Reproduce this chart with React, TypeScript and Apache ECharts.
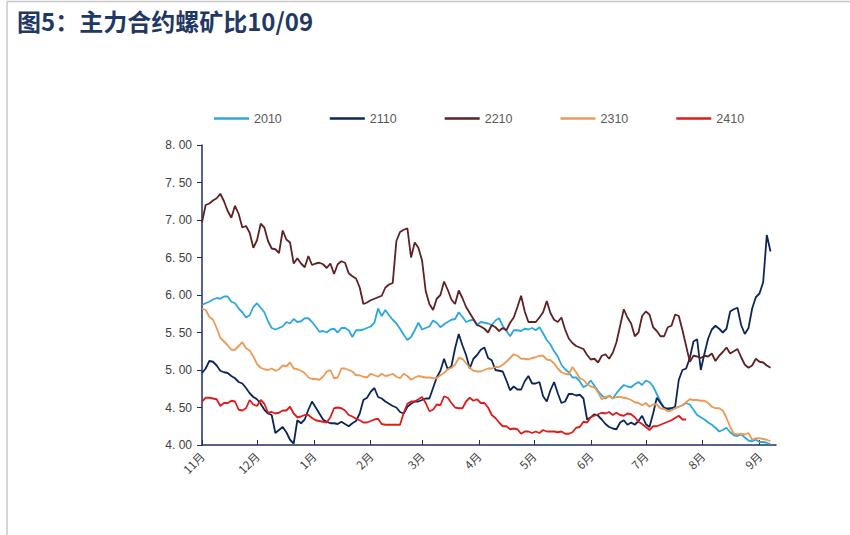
import React, { useEffect, useRef } from "react";
import * as echarts from "echarts";

// x axis: calendar-day offset from 1 Nov; month boundaries
const monthStartDays = [0, 30, 61, 92, 120, 151, 181, 212, 242, 273, 304];
const monthLabels = ["11月", "12月", "1月", "2月", "3月", "4月", "5月", "6月", "7月", "8月", "9月"];
const axisEndDay = 313;
const DAY_STEP = 2; // readings taken every 2 calendar days

const seriesNames = ["2010", "2110", "2210", "2310", "2410"];

const s2010 = [
  5.87, 5.89, 5.91, 5.94, 5.96, 5.95, 5.98, 5.98, 5.91, 5.89,
  5.82, 5.77, 5.7, 5.73, 5.84, 5.89, 5.83, 5.77, 5.65, 5.56,
  5.54, 5.56, 5.58, 5.64, 5.62, 5.68, 5.64, 5.65, 5.69, 5.69,
  5.64, 5.58, 5.51, 5.52, 5.5, 5.54, 5.55, 5.5, 5.56, 5.56,
  5.53, 5.44, 5.53, 5.53, 5.54, 5.56, 5.58, 5.63, 5.82, 5.72,
  5.8, 5.73, 5.67, 5.62, 5.55, 5.47, 5.4, 5.44, 5.53, 5.63,
  5.54, 5.56, 5.58, 5.66, 5.63, 5.57, 5.61, 5.64, 5.67, 5.68,
  5.77, 5.71, 5.64, 5.66, 5.67, 5.6, 5.64, 5.63, 5.62, 5.6,
  5.66, 5.69, 5.59, 5.52, 5.45, 5.53, 5.53, 5.52, 5.55, 5.54,
  5.56, 5.53, 5.57, 5.49, 5.4, 5.34, 5.25, 5.18, 5.07, 5.01,
  4.97, 4.9, 4.9, 4.85, 4.77, 4.8, 4.86, 4.79, 4.72, 4.66,
  4.62, 4.66, 4.62, 4.69, 4.75, 4.8, 4.78, 4.77, 4.81, 4.84,
  4.8, 4.86, 4.84, 4.78, 4.68, 4.58, 4.48, 4.49, 4.49, 4.49,
  4.51, 4.53, 4.56, 4.54, 4.47, 4.4, 4.37, 4.34, 4.3, 4.27,
  4.23, 4.18, 4.2, 4.23, 4.17, 4.13, 4.12, 4.14, 4.1, 4.06,
  4.05, 4.07, 4.04, 4.04, 4.03, 4.01,
];

const s2110 = [
  4.96, 5.02, 5.12, 5.11, 5.06, 4.99, 4.97, 4.96, 4.92, 4.89,
  4.84, 4.82, 4.76, 4.69, 4.64, 4.61, 4.55, 4.47, 4.42, 4.4,
  4.16, 4.2, 4.24, 4.17, 4.07, 4.02, 4.33, 4.29, 4.34, 4.47,
  4.58, 4.5, 4.42, 4.34, 4.31, 4.29, 4.29, 4.28, 4.31, 4.28,
  4.25, 4.29, 4.32, 4.42, 4.6, 4.63, 4.71, 4.76, 4.64, 4.62,
  4.58, 4.55, 4.52, 4.5, 4.44, 4.42, 4.51, 4.55, 4.58, 4.58,
  4.6, 4.62, 4.62, 4.76, 4.9, 4.99, 5.15, 5.01, 5.05, 5.29,
  5.48, 5.33, 5.2, 5.02, 5.15, 5.2, 5.27, 5.3, 5.16, 5.13,
  5.0, 4.99, 4.98, 4.86, 4.73, 4.78, 4.74, 4.74, 4.85, 4.92,
  4.82, 4.82, 4.84, 4.65, 4.58, 4.73, 4.84, 4.69, 4.56, 4.58,
  4.68, 4.68, 4.66, 4.67, 4.62, 4.34, 4.37, 4.41, 4.39, 4.34,
  4.28, 4.24, 4.22, 4.21, 4.3, 4.33, 4.27, 4.3, 4.27, 4.32,
  4.39, 4.28, 4.24, 4.42, 4.63, 4.56, 4.5, 4.48, 4.49, 4.51,
  4.87, 5.0, 5.02, 5.16, 5.38, 5.41, 5.0, 5.22, 5.42, 5.54,
  5.59, 5.55, 5.5, 5.55, 5.78, 5.81, 5.83, 5.6, 5.48, 5.56,
  5.82, 5.97, 6.02, 6.17, 6.8, 6.58,
];

const s2210 = [
  6.97, 7.2, 7.22, 7.26, 7.29, 7.35, 7.25, 7.12, 7.03, 7.19,
  7.08, 6.9, 6.92, 6.83, 6.63, 6.73, 6.95, 6.9, 6.72, 6.62,
  6.61, 6.56, 6.86, 6.74, 6.7, 6.42, 6.49, 6.42, 6.37, 6.52,
  6.4, 6.42, 6.43, 6.41, 6.36, 6.42, 6.28, 6.41, 6.45, 6.43,
  6.29, 6.25, 6.22, 6.1, 5.88, 5.9, 5.93, 5.95, 5.97, 5.99,
  6.1, 6.14, 6.16, 6.72, 6.84, 6.87, 6.89, 6.5, 6.7, 6.63,
  6.46, 6.05, 5.88, 5.8, 5.95, 6.0, 6.18, 6.07, 5.94, 5.88,
  6.06, 5.96, 5.84, 5.76, 5.68, 5.6, 5.58, 5.55, 5.5, 5.6,
  5.57, 5.52, 5.56, 5.53, 5.63, 5.7, 5.84, 5.99, 5.78, 5.64,
  5.64, 5.64, 5.7, 5.77, 5.92, 5.76, 5.67, 5.64, 5.7, 5.54,
  5.42, 5.36, 5.32, 5.3, 5.28, 5.2, 5.14, 5.15, 5.1, 5.19,
  5.21, 5.15, 5.23, 5.37, 5.59, 5.81, 5.7, 5.62, 5.45, 5.5,
  5.72, 5.78, 5.74, 5.57, 5.52, 5.45, 5.45, 5.57, 5.59, 5.74,
  5.72, 5.53, 5.32, 5.11, 5.19, 5.18, 5.16, 5.19, 5.18, 5.22,
  5.12, 5.19, 5.24, 5.3, 5.22, 5.25, 5.28, 5.17, 5.07, 5.03,
  5.06, 5.15, 5.11, 5.1, 5.06, 5.03,
];

const s2310 = [
  5.82, 5.8, 5.71, 5.67, 5.56, 5.43, 5.38, 5.33, 5.27, 5.27,
  5.32, 5.37, 5.29, 5.26, 5.18, 5.08, 5.03, 5.01, 5.0, 5.02,
  4.99, 5.01, 5.06, 5.05, 5.1, 5.02, 5.01, 4.99, 4.96, 4.9,
  4.88, 4.88, 4.87, 4.91, 4.98, 5.0, 4.89, 4.9, 5.02, 5.02,
  5.0, 4.98, 4.93, 4.93, 4.91, 4.9, 4.95, 4.93, 4.91, 4.95,
  4.92, 4.93, 4.95, 4.91, 4.89, 4.95, 4.92, 4.87, 4.9, 4.92,
  4.91, 4.9, 4.9, 4.89, 4.89, 4.93, 4.96, 5.01, 5.03, 5.07,
  5.16, 5.15, 5.09, 5.03, 4.99, 4.98, 4.98, 5.0, 5.02, 5.02,
  5.04, 5.04, 5.07, 5.11, 5.16, 5.21, 5.19, 5.15, 5.15, 5.14,
  5.16, 5.17, 5.19, 5.19, 5.14, 5.13, 5.09, 5.02, 4.97, 4.95,
  4.94, 5.04, 4.97, 4.89, 4.87, 4.81, 4.78, 4.77, 4.7, 4.61,
  4.64, 4.65, 4.62, 4.64, 4.64, 4.63, 4.62, 4.6, 4.57, 4.56,
  4.53, 4.56, 4.51, 4.54, 4.54, 4.49, 4.48, 4.45, 4.46, 4.49,
  4.51, 4.53, 4.57, 4.61, 4.6, 4.6, 4.59, 4.59, 4.56, 4.51,
  4.49, 4.49, 4.46, 4.36, 4.24, 4.15, 4.14, 4.15, 4.14, 4.16,
  4.07, 4.09, 4.09, 4.08, 4.07, 4.05,
];

const s2410 = [
  4.58, 4.63, 4.63, 4.62, 4.61, 4.52, 4.56, 4.56, 4.59, 4.58,
  4.47, 4.46, 4.49, 4.6, 4.54, 4.52, 4.6, 4.55, 4.43, 4.44,
  4.42, 4.43, 4.46, 4.46, 4.51, 4.42, 4.37, 4.38, 4.4, 4.4,
  4.36, 4.33, 4.32, 4.31, 4.3, 4.37, 4.49, 4.5, 4.49, 4.46,
  4.4, 4.38, 4.35, 4.33, 4.3, 4.3, 4.32, 4.34, 4.35, 4.28,
  4.27, 4.27, 4.27, 4.27, 4.27, 4.43, 4.55, 4.58, 4.58, 4.61,
  4.64, 4.56, 4.45, 4.47, 4.54, 4.53, 4.65, 4.63, 4.56, 4.5,
  4.49, 4.49, 4.58, 4.63, 4.59, 4.61, 4.56, 4.56, 4.5, 4.4,
  4.36, 4.3, 4.25, 4.25, 4.21, 4.22, 4.21, 4.15, 4.18, 4.18,
  4.16, 4.18, 4.16, 4.2, 4.18, 4.18, 4.18, 4.17, 4.18, 4.15,
  4.15, 4.17, 4.23, 4.24, 4.31, 4.3, 4.37, 4.39, 4.41, 4.43,
  4.42, 4.44, 4.4, 4.43, 4.4, 4.39, 4.42, 4.41, 4.37, 4.31,
  4.28, 4.24, 4.2, 4.25, 4.25, 4.27, 4.29, 4.31, 4.33, 4.36,
  4.39, 4.34, 4.34,
];

const seriesValues = [s2010, s2110, s2210, s2310, s2410];
const seriesColors = ["#2ea8dc", "#0d2657", "#5e2124", "#eb9b56", "#dd1c1c"];

const yMin = 4;
const yMax = 8;
const yInterval = 0.5;

export default function App() {
  const ref = useRef<HTMLDivElement>(null);

  useEffect(() => {
    document.body.style.margin = "0";
    if (!ref.current) return;
    const chart = echarts.init(ref.current, null, { renderer: "svg" });
    const axisColor = "#1f3060";
    const labelColor = "#404040";
    chart.setOption({
      animation: false,
      backgroundColor: "#ffffff",
      title: {
        text: "图5：主力合约螺矿比10/09",
        left: 12,
        top: 3,
        textStyle: {
          fontFamily: "Noto Sans CJK SC",
          fontSize: 24,
          fontWeight: "bold",
          color: "#1f3864",
        },
      },
      graphic: [
        { type: "line", shape: { x1: 7, y1: 1.5, x2: 850, y2: 1.5 }, style: { stroke: "#c8c8c8", lineWidth: 1.5 } },
        { type: "line", shape: { x1: 7, y1: 1.5, x2: 7, y2: 535 }, style: { stroke: "#c8c8c8", lineWidth: 1.5 } },
      ],
      legend: {
        top: 107,
        left: 209,
        icon: "rect",
        itemWidth: 35,
        itemHeight: 2.5,
        itemGap: 48,
        textStyle: { fontFamily: "Liberation Sans", fontSize: 12.5, color: "#595959" },
        data: seriesNames,
      },
      grid: { left: 202, right: 74, top: 145, bottom: 90, containLabel: false },
      xAxis: {
        type: "value",
        min: 0,
        max: axisEndDay,
        axisLine: { show: true, lineStyle: { color: axisColor, width: 1.5 } },
        axisTick: {
          show: true,
          inside: true,
          length: 5,
          customValues: monthStartDays,
          lineStyle: { color: axisColor },
        },
        axisLabel: {
          customValues: monthStartDays,
          rotate: 45,
          margin: 9,
          fontFamily: "Noto Sans CJK SC",
          fontSize: 11.5,
          color: labelColor,
          formatter: (v: number) => {
            const i = monthStartDays.indexOf(Math.round(v));
            return i >= 0 ? monthLabels[i] : "";
          },
        },
        splitLine: { show: false },
      },
      yAxis: {
        type: "value",
        min: yMin,
        max: yMax,
        interval: yInterval,
        axisLine: { show: true, lineStyle: { color: axisColor, width: 1.5 } },
        axisTick: { show: true, inside: false, length: 5, lineStyle: { color: axisColor } },
        axisLabel: {
          margin: 10,
          fontFamily: "Liberation Sans",
          fontSize: 12,
          color: labelColor,
          formatter: (v: number) => v.toFixed(2).replace(".", ". "),
        },
        splitLine: { show: false },
      },
      series: seriesNames.map((name, k) => ({
        name,
        type: "line",
        symbol: "none",
        smooth: false,
        lineStyle: { width: 1.8, color: seriesColors[k] },
        itemStyle: { color: seriesColors[k] },
        data: seriesValues[k].map((v, i) => [i * DAY_STEP, v]),
      })),
    });
    return () => chart.dispose();
  }, []);

  return <div ref={ref} style={{ width: 850, height: 535 }} />;
}
